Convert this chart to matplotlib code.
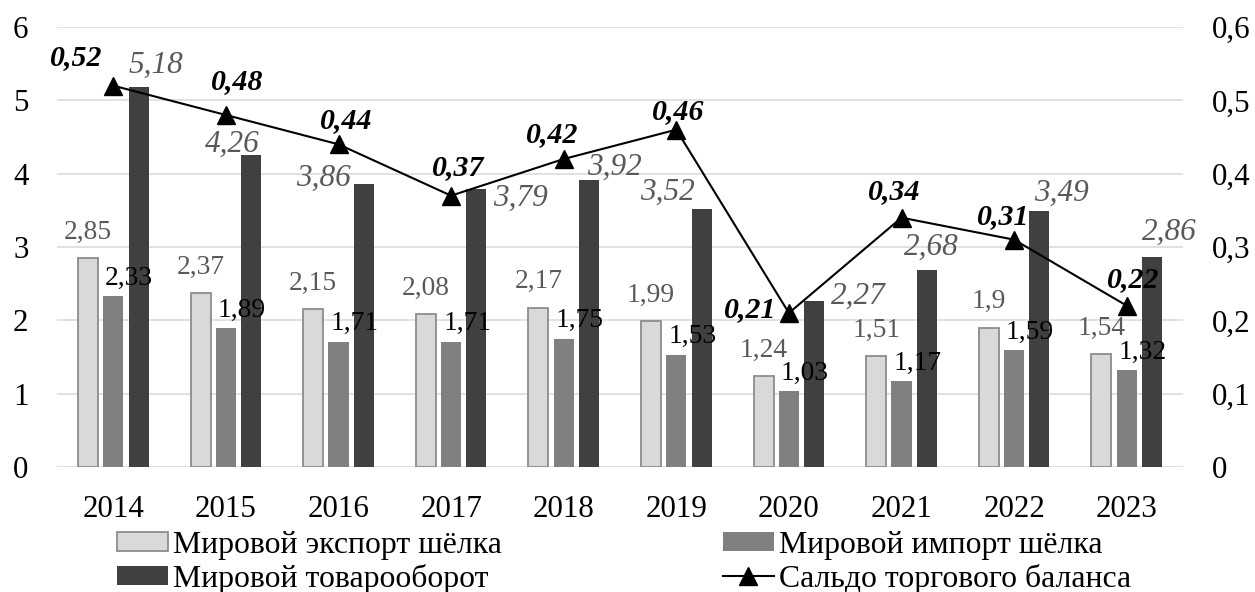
import numpy as np
import matplotlib
matplotlib.use("Agg")
import matplotlib.pyplot as plt
from matplotlib.lines import Line2D
from matplotlib.patches import Patch

plt.rcParams['font.family'] = ['Liberation Serif', 'DejaVu Serif']

# данные
years = ['2014', '2015', '2016', '2017', '2018', '2019', '2020', '2021', '2022', '2023']
export_silk = [2.85, 2.37, 2.15, 2.08, 2.17, 1.99, 1.24, 1.51, 1.9, 1.54]
import_silk = [2.33, 1.89, 1.71, 1.71, 1.75, 1.53, 1.03, 1.17, 1.59, 1.32]
turnover = [5.18, 4.26, 3.86, 3.79, 3.92, 3.52, 2.27, 2.68, 3.49, 2.86]
balance = [0.52, 0.48, 0.44, 0.37, 0.42, 0.46, 0.21, 0.34, 0.31, 0.22]

names = ['Мировой экспорт шёлка', 'Мировой импорт шёлка',
         'Мировой товарооборот', 'Сальдо торгового баланса']

# смещения подписей (в пикселях) -- подобраны по картинке
turn_off = [(17, 22), (-19, 10), (-40, 6), (44, -9), (25, 12),
            (-34, 17), (44, 4), (5, 23), (22, 18), (17, 25)]
bal_off = [(-37, 28), (11, 33), (8, 24), (7, 28), (-11, 24),
           (2, 18), (-39, 3), (-7, 26), (-11, 23), (7, 26)]

DPI = 100
PX = 72 / DPI
FS_TICK = 22.3
FS_SMALL = 19.8
FS_TURN = 22.5
FS_BAL = 21.5
FS_LEG = 22.9


def fmt(v):
    return f"{v:g}".replace('.', ',')


fig = plt.figure(figsize=(12.55, 5.92), dpi=DPI)
ax = fig.add_axes([57 / 1255, 125 / 592, 1126 / 1255, 440 / 592])
ax2 = ax.twinx()

x = np.arange(len(years))
w = 0.178
step = 0.225

ax.bar(x - step, export_silk, w, color='#d9d9d9', edgecolor='#8c8c8c',
       linewidth=1.3, zorder=3)
ax.bar(x, import_silk, w, color='#808080', zorder=3)
ax.bar(x + step, turnover, w, color='#404040', zorder=3)

ax.set_ylim(0, 6)
ax.set_xlim(-0.5, len(years) - 0.5)
ax.set_yticks(range(0, 7))
ax.set_xticks(x)
ax.set_xticklabels(years)
ax.yaxis.grid(True, color='#d9d9d9', linewidth=1.1, zorder=0)
ax.set_axisbelow(True)
for s in ax.spines.values():
    s.set_visible(False)
ax.tick_params(axis='both', length=0, labelsize=FS_TICK)
ax.tick_params(axis='y', pad=20.5)
ax.tick_params(axis='x', pad=20)

ax2.plot(x, balance, color='black', linewidth=1.5, marker='^',
         markersize=13.5, zorder=5)
ax2.set_ylim(0, 0.6)
ax2.set_yticks(np.arange(0, 0.61, 0.1))
ax2.set_yticklabels([fmt(round(v, 1)) for v in np.arange(0, 0.61, 0.1)])
for s in ax2.spines.values():
    s.set_visible(False)
ax2.tick_params(axis='y', length=0, labelsize=FS_TICK, pad=20.5)

# подписи данных
for i in range(len(years)):
    ax.annotate(fmt(export_silk[i]), (x[i] - step, export_silk[i]),
                xytext=(0, 26 * PX), textcoords='offset points',
                ha='center', va='center', fontsize=FS_SMALL, color='#595959',
                zorder=6)
    ax.annotate(fmt(import_silk[i]), (x[i], import_silk[i]),
                xytext=(16 * PX, 18 * PX), textcoords='offset points',
                ha='center', va='center', fontsize=FS_SMALL, color='black',
                zorder=6)
    dx, dy = turn_off[i]
    ax.annotate(fmt(turnover[i]), (x[i] + step, turnover[i]),
                xytext=(dx * PX, dy * PX), textcoords='offset points',
                ha='center', va='center', fontsize=FS_TURN, color='#595959',
                style='italic', zorder=6)
    dx, dy = bal_off[i]
    ax2.annotate(fmt(balance[i]), (x[i], balance[i]),
                 xytext=(dx * PX, dy * PX), textcoords='offset points',
                 ha='center', va='center', fontsize=FS_BAL, color='black',
                 style='italic', fontweight='bold', zorder=7)

handles = [
    Patch(facecolor='#d9d9d9', edgecolor='#8c8c8c', linewidth=1.3),
    Patch(facecolor='#404040'),
    Patch(facecolor='#808080'),
    Line2D([0], [0], color='black', linewidth=1.5, marker='^', markersize=13.5),
]
labels = [names[0], names[2], names[1], names[3]]
fig.legend(handles, labels, loc='center', bbox_to_anchor=(0.497, 0.05),
           ncol=2, frameon=False, fontsize=FS_LEG, handlelength=1.6,
           handleheight=0.53, handletextpad=0.16, columnspacing=6.95,
           labelspacing=0.12, borderpad=0)

fig.savefig('out.png', dpi=DPI)
